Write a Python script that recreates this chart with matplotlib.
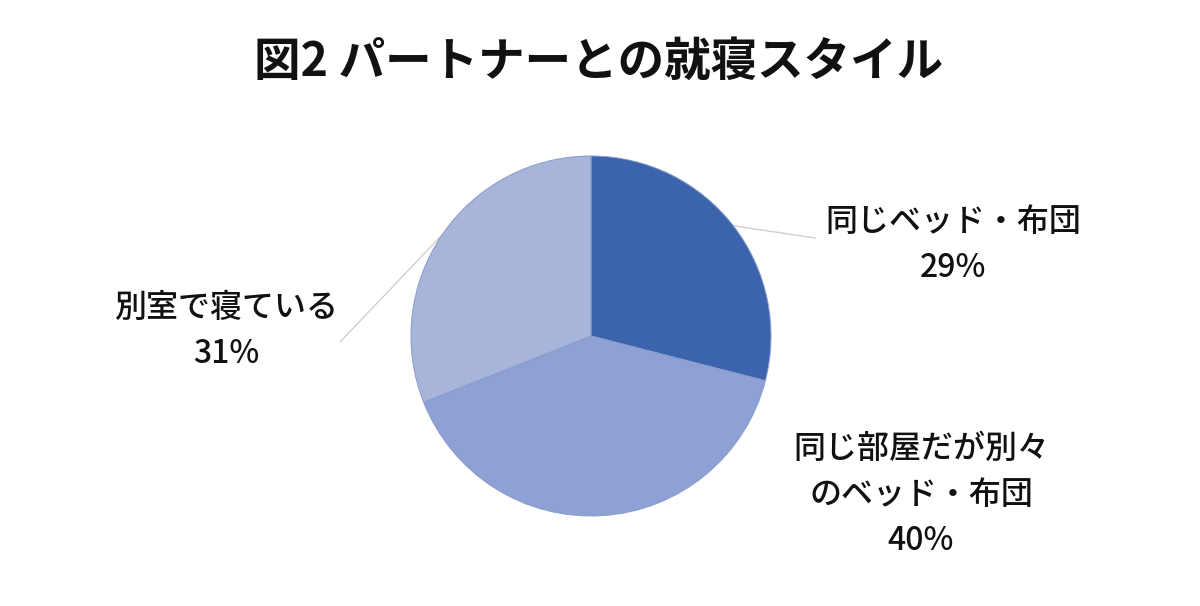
import matplotlib
matplotlib.use("Agg")
import matplotlib.pyplot as plt
import numpy as np

plt.rcParams['font.family'] = ['Noto Sans CJK JP', 'DejaVu Sans']

title = "図2 パートナーとの就寝スタイル"
categories = ["同じベッド・布団", "同じ部屋だが別々\nのベッド・布団", "別室で寝ている"]
values = [29, 40, 31]
colors = ["#3C64AD", "#8EA1D4", "#A8B5DB"]

W, H = 1200, 606
fig = plt.figure(figsize=(12, 6.06), dpi=100)
ax = fig.add_axes([0, 0, 1, 1])
ax.set_xlim(0, W)
ax.set_ylim(0, H)
ax.set_aspect('equal')
ax.axis('off')

cx, cy, r = 591, H - 336, 180
wedges, _ = ax.pie(values, colors=colors, startangle=90, counterclock=False,
                   center=(cx, cy), radius=r, frame=True,
                   wedgeprops=dict(edgecolor="#8A9BCB", linewidth=0.7))
ax.set_xlim(0, W)
ax.set_ylim(0, H)
ax.axis('off')

# label positions (centre of text block, pixel coords from top)
label_pos = [(953, 245), (921, 495), (226, 331)]
leader_end = [(815, 238), None, (340, 342)]

for i, (cat, val) in enumerate(zip(categories, values)):
    x, y = label_pos[i]
    ax.text(x, H - y, f"{cat}\n{val}%", ha='center', va='center',
            fontsize=23, fontweight='medium', color='#111111',
            linespacing=1.55, multialignment='center')
    if leader_end[i] is not None:
        w = wedges[i]
        mid = np.deg2rad((w.theta1 + w.theta2) / 2)
        sx, sy = cx + r * np.cos(mid), cy + r * np.sin(mid)
        ex, ey = leader_end[i]
        ax.plot([sx, ex], [sy, H - ey], color='#D0D0D0', lw=1.0, zorder=0)

fig.text(599 / W, 1 - 62 / H, title, ha='center', va='center',
         fontsize=33.5, fontweight='bold', color='#111111')

fig.savefig("out.png", dpi=100, facecolor='white')
